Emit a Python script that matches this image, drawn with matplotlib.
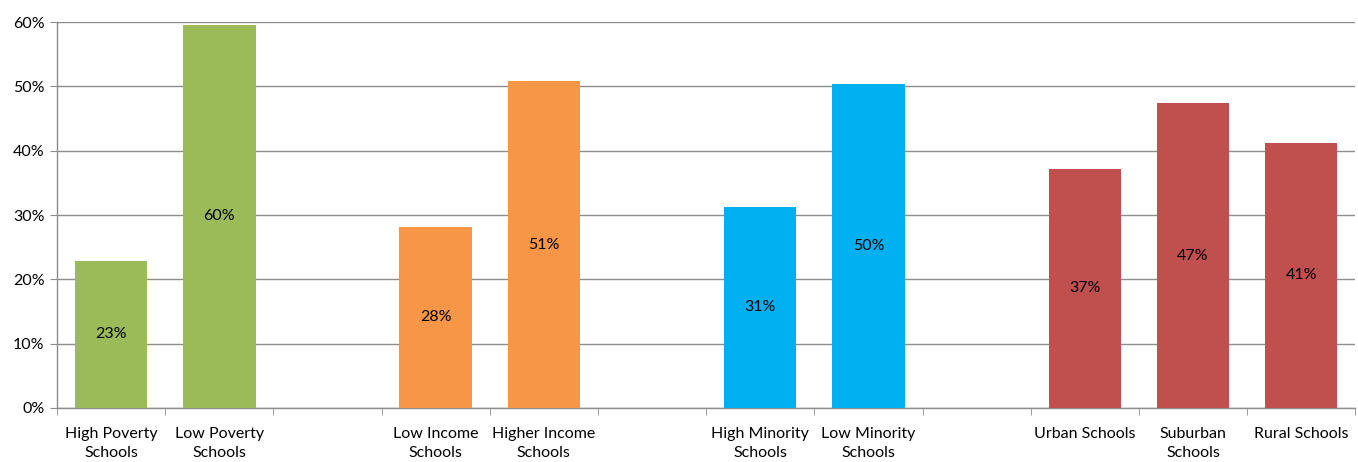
import numpy as np
import matplotlib.pyplot as plt
from matplotlib.ticker import PercentFormatter

plt.rcParams['font.family'] = ['Lato', 'DejaVu Sans']

categories = ['High Poverty\nSchools', 'Low Poverty\nSchools', '',
              'Low Income\nSchools', 'Higher Income\nSchools', '',
              'High Minority\nSchools', 'Low Minority\nSchools', '',
              'Urban Schools', 'Suburban\nSchools', 'Rural Schools']
values = [22.9, 59.6, None, 28.2, 50.8, None, 31.3, 50.4, None, 37.2, 47.4, 41.2]
labels = ['23%', '60%', '', '28%', '51%', '', '31%', '50%', '', '37%', '47%', '41%']
group_colors = ['#9BBB59', '#9BBB59', None, '#F79646', '#F79646', None,
                '#00B0F0', '#00B0F0', None, '#C0504D', '#C0504D', '#C0504D']

fig = plt.figure(figsize=(13.58, 4.62), dpi=100)
ax = fig.add_axes([0.042, 0.117, 0.956, 0.835])

x = np.arange(len(categories))
for i, v in enumerate(values):
    if v is None:
        continue
    ax.bar(x[i], v, width=0.67, color=group_colors[i], zorder=3)
    ax.text(x[i], v / 2, labels[i], ha='center', va='center', fontsize=11.5,
            color='black', zorder=4)

ax.set_xlim(-0.5, len(categories) - 0.5)
ax.set_ylim(0, 60)
ax.set_yticks(np.arange(0, 61, 10))
ax.yaxis.set_major_formatter(PercentFormatter(decimals=0))
ax.yaxis.grid(True, color='#8c8c8c', linewidth=1.0, zorder=0)

ax.set_xticks(x)
ax.set_xticklabels(categories, fontsize=11.5, linespacing=1.45)
ax.set_xticks(np.arange(-0.5, len(categories)), minor=True)
ax.tick_params(axis='x', which='major', length=0, pad=14)
ax.tick_params(axis='x', which='minor', length=5, color='#8c8c8c', direction='out')
ax.tick_params(axis='y', length=5, color='#8c8c8c', labelsize=11.5, pad=4)

for s in ['top', 'right']:
    ax.spines[s].set_visible(False)
for s in ['left', 'bottom']:
    ax.spines[s].set_color('#8c8c8c')
    ax.spines[s].set_linewidth(1.0)

plt.savefig('out.png', dpi=100)
